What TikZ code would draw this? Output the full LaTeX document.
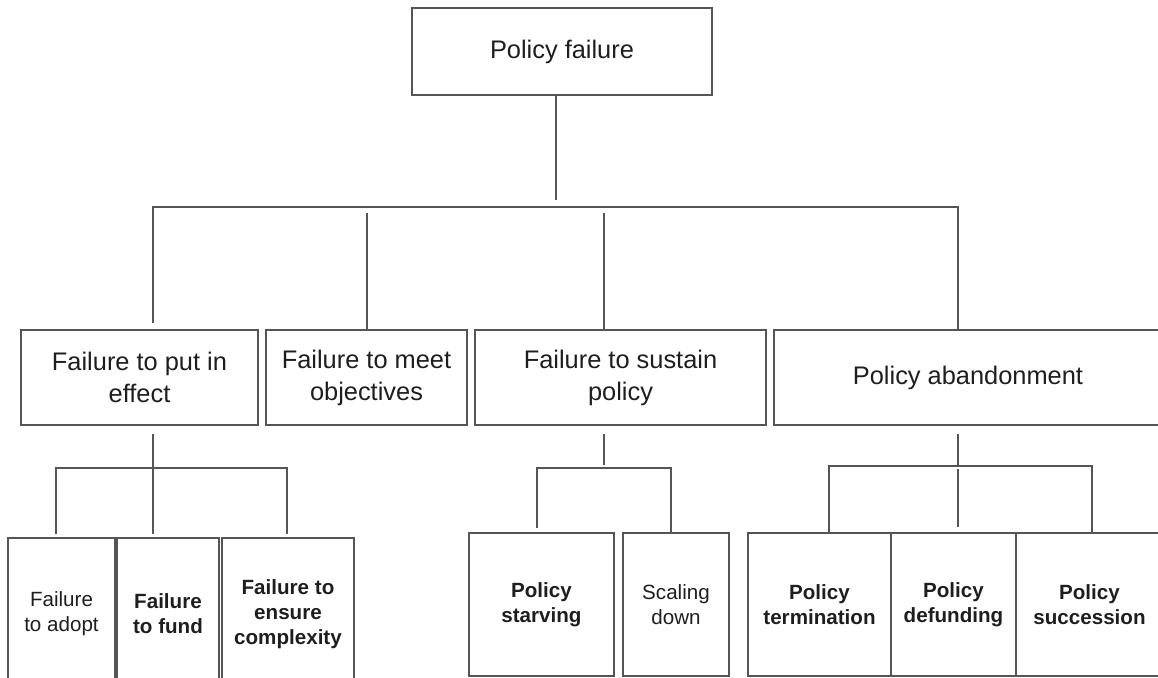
\documentclass[tikz,border=0pt]{standalone}
\usepackage{fontspec}
\setmainfont{Liberation Sans}
\definecolor{linegray}{HTML}{555555}
\definecolor{inkgray}{HTML}{1E1E1E}

\begin{document}
\begin{tikzpicture}[x=.5pt,y=-.5pt,
  box/.style={draw=linegray,line width=.6pt,inner sep=0pt,align=center,text=inkgray},
  bigbox/.style={box,font=\fontsize{12.7}{16}\selectfont},
  leaf/.style={box,font=\fontsize{10.3}{12.5}\selectfont},
  leafb/.style={box,font=\fontsize{10.3}{12.5}\selectfont\bfseries},
  link/.style={draw=linegray,line width=.6pt}]
\useasboundingbox (0,0) rectangle (1158,677);
\clip (0,0) rectangle (1158,677);

\node[bigbox,minimum width=150pt,minimum height=43.5pt] (top) at (562,51.5) {Policy failure};

\node[bigbox,minimum width=118.5pt,minimum height=47.5pt] (put) at (139.5,377.5) {Failure to put in\\effect};
\node[bigbox,minimum width=100.5pt,minimum height=47.5pt] (meet) at (366.5,377.5) {Failure to meet\\objectives};
\node[bigbox,minimum width=145.5pt,minimum height=47.5pt] (sustain) at (620.5,377.5) {Failure to sustain\\policy};
\node[bigbox,minimum width=194pt,minimum height=47.5pt] (abandon) at (968,377.5) {Policy abandonment};

\node[leaf,minimum width=53.5pt,minimum height=76pt] (adopt) at (61.5,614) {Failure\\to adopt};
\node[leafb,minimum width=51pt,minimum height=76pt] (fund) at (168,614) {Failure\\to fund};
\node[leafb,minimum width=66pt,minimum height=76pt] (ensure) at (288,614) {Failure to\\ensure\\complexity};

\node[leafb,minimum width=72.5pt,minimum height=71.5pt] (starve) at (541.5,604.5) {Policy\\starving};
\node[leaf,minimum width=53pt,minimum height=71.5pt] (scale) at (676,604.5) {Scaling\\down};

\node[leafb,minimum width=71.5pt,minimum height=71.5pt] (term) at (819.5,604.5) {Policy\\termination};
\node[leafb,minimum width=62.5pt,minimum height=71.5pt] (defund) at (953.5,604.5) {Policy\\defunding};
\node[leafb,minimum width=73.5pt,minimum height=71.5pt] (succ) at (1089.5,604.5) {Policy\\succession};

\coordinate (j0) at (556,207);
\coordinate (j1) at (153,207);
\coordinate (j2) at (367,207);
\coordinate (j3) at (604,207);
\coordinate (j4) at (958,207);
\draw[link,shorten >=3.5pt] (top.south -| j0) -- (j0);
\draw[link,shorten <=3pt] (put.north -| j1) -- (j1) -- (j4) -- (abandon.north -| j4);
\draw[link,shorten <=3pt] (j2) -- (meet.north -| j2);
\draw[link,shorten <=3pt] (j3) -- (sustain.north -| j3);

\coordinate (k0) at (56,468);
\coordinate (k1) at (153,468);
\coordinate (k2) at (287,468);
\draw[link,shorten <=4pt,shorten >=1.5pt] (put.south -| k1) -- (fund.north -| k1);
\draw[link,shorten <=1.5pt,shorten >=1.5pt] (adopt.north -| k0) -- (k0) -- (k2) -- (ensure.north -| k2);

\coordinate (m0) at (537,468);
\coordinate (m1) at (604,468);
\coordinate (m2) at (671,468);
\draw[link,shorten <=4pt,shorten >=1.5pt] (sustain.south -| m1) -- (m1);
\draw[link,shorten <=2pt] (starve.north -| m0) -- (m0) -- (m2) -- (scale.north -| m2);

\coordinate (n0) at (829,466);
\coordinate (n1) at (958,466);
\coordinate (n2) at (1092,466);
\draw[link,shorten <=4pt,shorten >=.5pt] (abandon.south -| n1) -- (n1);
\draw[link] (term.north -| n0) -- (n0) -- (n2) -- (succ.north -| n2);
\draw[link,shorten <=1.5pt,shorten >=2.5pt] (n1) -- (defund.north -| n1);
\end{tikzpicture}
\end{document}
